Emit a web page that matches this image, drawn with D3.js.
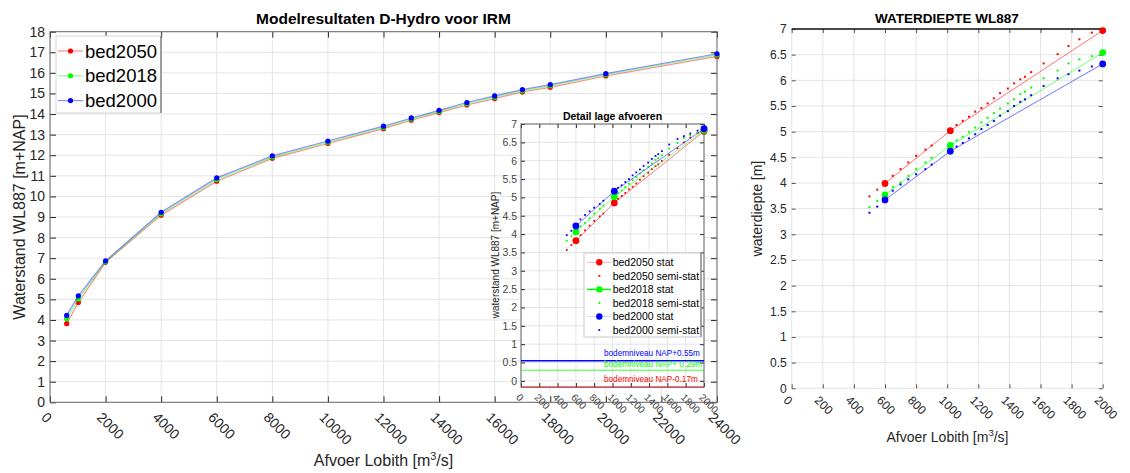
<!DOCTYPE html>
<html>
<head>
<meta charset="utf-8">
<script src="https://cdn.jsdelivr.net/npm/d3@7"></script>
<style>
  body { margin: 0; background: #fff; }
  text { font-family: "Liberation Sans", Arial, Helvetica, sans-serif; }
</style>
</head>
<body>
<svg id="chart" width="1130" height="473"></svg>
<script>
// ---------------- data ----------------
// Main panel: stationary water levels at WL887 [m+NAP] per discharge
const mainQ      = [600, 1020, 2000, 4000, 6000, 8000, 10000, 12000, 13000, 14000, 15000, 16000, 17000, 18000, 20000, 24000];
const wl2050     = [3.82, 4.85, 6.80, 9.09, 10.74, 11.85, 12.57, 13.29, 13.70, 14.07, 14.44, 14.75, 15.07, 15.30, 15.85, 16.80];
const wl2018     = [4.06, 5.02, 6.83, 9.16, 10.82, 11.91, 12.63, 13.35, 13.76, 14.13, 14.50, 14.82, 15.13, 15.37, 15.91, 16.87];
const wl2000     = [4.22, 5.17, 6.87, 9.23, 10.90, 11.97, 12.69, 13.41, 13.81, 14.18, 14.56, 14.88, 15.19, 15.43, 15.96, 16.93];
const mainXTicks = [0, 2000, 4000, 6000, 8000, 10000, 12000, 14000, 16000, 18000, 20000, 22000, 24000];
const mainYTicks = [0, 1, 2, 3, 4, 5, 6, 7, 8, 9, 10, 11, 12, 13, 14, 15, 16, 17, 18];

// Low-discharge detail: stationary points and semi-stationary points
const statQ      = [600, 1020, 2000];
const statWl2050 = [3.82, 4.85, 6.80];
const statWl2018 = [4.06, 5.02, 6.83];
const statWl2000 = [4.22, 5.17, 6.87];
const semiQ      = [500, 550, 650, 700, 750, 800, 860, 900, 1060, 1100, 1140, 1180, 1220, 1260, 1300, 1340, 1390, 1430, 1470, 1500, 1540, 1620, 1710, 1780, 1850, 1930];
const semiWl2050 = [3.57, 3.70, 3.97, 4.10, 4.23, 4.36, 4.48, 4.56, 4.96, 5.04, 5.12, 5.22, 5.29, 5.38, 5.48, 5.58, 5.67, 5.77, 5.85, 5.90, 5.99, 6.16, 6.34, 6.50, 6.63, 6.76];
const semiWl2018 = [3.82, 3.94, 4.21, 4.30, 4.43, 4.56, 4.69, 4.78, 5.12, 5.19, 5.28, 5.37, 5.47, 5.56, 5.65, 5.74, 5.84, 5.92, 6.02, 6.07, 6.15, 6.33, 6.48, 6.62, 6.70, 6.76];
const semiWl2000 = [3.97, 4.09, 4.40, 4.52, 4.62, 4.72, 4.82, 4.91, 5.26, 5.33, 5.42, 5.50, 5.60, 5.68, 5.76, 5.86, 5.95, 6.05, 6.13, 6.18, 6.26, 6.44, 6.59, 6.67, 6.74, 6.82];
const bedLevels  = [0.55, 0.29, -0.17];
const bedLabels  = ["bodemniveau NAP+0.55m", "bodemniveau NAP+ 0.29m", "bodemniveau NAP-0.17m"];
const detailYTicks = [0, 0.5, 1, 1.5, 2, 2.5, 3, 3.5, 4, 4.5, 5, 5.5, 6, 6.5, 7];
const detailXTicks = [0, 200, 400, 600, 800, 1000, 1200, 1400, 1600, 1800, 2000];

// Water depth at WL887 [m]
const depthStat2050 = [3.99, 5.02, 6.97];
const depthStat2018 = [3.77, 4.73, 6.54];
const depthStat2000 = [3.67, 4.62, 6.32];
const depthSemi2050 = [3.74, 3.87, 4.14, 4.27, 4.40, 4.53, 4.65, 4.73, 5.13, 5.21, 5.29, 5.39, 5.46, 5.55, 5.65, 5.75, 5.84, 5.94, 6.02, 6.07, 6.16, 6.33, 6.51, 6.67, 6.80, 6.93];
const depthSemi2018 = [3.53, 3.65, 3.92, 4.01, 4.14, 4.27, 4.40, 4.49, 4.83, 4.90, 4.99, 5.08, 5.18, 5.27, 5.36, 5.45, 5.55, 5.63, 5.73, 5.78, 5.86, 6.04, 6.19, 6.33, 6.41, 6.47];
const depthSemi2000 = [3.42, 3.54, 3.85, 3.97, 4.07, 4.17, 4.27, 4.36, 4.71, 4.78, 4.87, 4.95, 5.05, 5.13, 5.21, 5.31, 5.40, 5.50, 5.58, 5.63, 5.71, 5.89, 6.04, 6.12, 6.19, 6.27];

const seriesNames  = ["bed2050", "bed2018", "bed2000"];
const seriesColors = ["#ff0000", "#00ff00", "#0000ff"];

// ---------------- helpers ----------------
const svg = d3.select("#chart");
svg.append("rect").attr("width", 1130).attr("height", 473).attr("fill", "#fff");

const GRID = "#e4e4e4";
const AXIS = "#262626";

function pairs(xs, ys) { return xs.map((q, i) => [q, ys[i]]); }

function grid(g, x, y, xt, yt) {
  const [x0, x1] = x.range(), [y0, y1] = y.range();
  g.append("g").selectAll("line").data(xt).join("line")
    .attr("x1", d => x(d)).attr("x2", d => x(d)).attr("y1", y0).attr("y2", y1)
    .attr("stroke", GRID).attr("stroke-width", 1);
  g.append("g").selectAll("line").data(yt).join("line")
    .attr("x1", x0).attr("x2", x1).attr("y1", d => y(d)).attr("y2", d => y(d))
    .attr("stroke", GRID).attr("stroke-width", 1);
}

// inward ticks on all four sides, labels left and bottom (bottom labels rotated 45deg)
function axes(g, x, y, xt, yt, o) {
  const [x0, x1] = x.range(), [y0, y1] = y.range();
  const tl = o.tick || 5;
  const left = g.append("g").attr("transform", `translate(${x0},0)`)
    .call(d3.axisLeft(y).tickValues(yt).tickSize(-tl).tickPadding(o.yPad).tickFormat(d => String(d)));
  const bottom = g.append("g").attr("transform", `translate(0,${y0})`)
    .call(d3.axisBottom(x).tickValues(xt).tickSize(-tl).tickFormat(d => String(d)));
  const top = g.append("g").attr("transform", `translate(0,${y1})`)
    .call(d3.axisTop(x).tickValues(xt).tickSize(-tl).tickFormat(""));
  const right = g.append("g").attr("transform", `translate(${x1},0)`)
    .call(d3.axisRight(y).tickValues(yt).tickSize(-tl).tickFormat(""));
  [left, bottom, top, right].forEach(a => {
    a.select(".domain").remove();
    a.selectAll("line").attr("stroke", o.tickColor || AXIS);
  });
  left.selectAll("text").attr("fill", o.labelColor || AXIS)
    .style("font-size", o.yFont + "px");
  bottom.selectAll("text")
    .attr("fill", o.labelColor || AXIS)
    .style("font-size", o.xFont + "px")
    .attr("text-anchor", "start")
    .attr("x", 0).attr("y", 0).attr("dy", 0)
    .attr("transform", `translate(${o.xdx},${o.xdy}) rotate(45)`);
  if (!o.noBox) {
    g.append("rect").attr("x", x0).attr("y", y1).attr("width", x1 - x0).attr("height", y0 - y1)
      .attr("fill", "none").attr("stroke", o.boxColor || "#555").attr("stroke-width", 1);
  }
}

function unitText(sel) {
  sel.append("tspan").text("Afvoer Lobith [m");
  sel.append("tspan").attr("dy", -6).style("font-size", "0.68em").text("3");
  sel.append("tspan").attr("dy", 6).text("/s]");
}

// ---------------- main panel ----------------
const mx = d3.scaleLinear().domain([0, 24000]).range([50, 717]);
const my = d3.scaleLinear().domain([0, 18]).range([402.3, 31.7]);
const mainG = svg.append("g");
grid(mainG, mx, my, mainXTicks, mainYTicks);
axes(mainG, mx, my, mainXTicks, mainYTicks, { yPad: 5, yFont: 14, xFont: 14, xdx: -10, xdy: 16, tick: 6, boxColor: "#6a6a6a" });

const mainLevels = [wl2050, wl2018, wl2000];
const lineGen = d3.line().x(d => mx(d[0])).y(d => my(d[1]));
mainLevels.forEach((wl, i) => {
  const pts = pairs(mainQ, wl);
  mainG.append("path").datum(pts).attr("d", lineGen)
    .attr("fill", "none").attr("stroke", seriesColors[i]).attr("stroke-opacity", 0.45).attr("stroke-width", 1.2);
  mainG.append("g").selectAll("circle").data(pts).join("circle")
    .attr("cx", d => mx(d[0])).attr("cy", d => my(d[1])).attr("r", 2.6).attr("fill", seriesColors[i]);
});

// title & axis labels
svg.append("text").attr("x", 383.5).attr("y", 24).attr("text-anchor", "middle")
  .style("font-size", "15.5px").style("font-weight", "bold").attr("fill", "#000")
  .text("Modelresultaten D-Hydro voor IRM");
svg.append("text").attr("transform", "translate(25,217) rotate(-90)").attr("text-anchor", "middle")
  .style("font-size", "16px").attr("fill", AXIS).text("Waterstand WL887 [m+NAP]");
svg.append("text").attr("x", 383.5).attr("y", 466).attr("text-anchor", "middle")
  .style("font-size", "16px").attr("fill", AXIS).call(unitText);

// main legend
const mLeg = svg.append("g");
mLeg.append("rect").attr("x", 56).attr("y", 36).attr("width", 105).attr("height", 77)
  .attr("fill", "#fff").attr("stroke", "#d5d5d5");
mLeg.append("line").attr("x1", 161).attr("x2", 161).attr("y1", 36).attr("y2", 113).attr("stroke", "#555");
seriesNames.forEach((nm, i) => {
  const cy = 51 + i * 24.8;
  mLeg.append("line").attr("x1", 58).attr("x2", 83).attr("y1", cy).attr("y2", cy)
    .attr("stroke", seriesColors[i]).attr("stroke-opacity", 0.45).attr("stroke-width", 1.2);
  mLeg.append("circle").attr("cx", 70.5).attr("cy", cy).attr("r", 2.6).attr("fill", seriesColors[i]);
  mLeg.append("text").attr("x", 85).attr("y", cy + 6.5).style("font-size", "18.5px").attr("fill", "#000").text(nm);
});

// ---------------- detail inset ----------------
const ix = d3.scaleLinear().domain([0, 2000]).range([521, 704]);
const iy = d3.scaleLinear().domain([-0.17, 7]).range([387.1, 124]);
const insG = svg.append("g");
insG.append("rect").attr("x", 521).attr("y", 124).attr("width", 183).attr("height", 263.1).attr("fill", "#fff");
grid(insG, ix, iy, detailXTicks, detailYTicks);
axes(insG, ix, iy, detailXTicks, detailYTicks, { yPad: 4, yFont: 10.5, xFont: 10, xdx: -6, xdy: 11, tick: 4, labelColor: "#444", boxColor: "#666" });

// bed levels
const bedColors = ["#0000ff", "#00ff00", "#ff0000"];
const bedWidths = [1.5, 0.8, 0.8];
const bedTextY  = [356, 366.5, 381.5];
bedLevels.forEach((b, i) => {
  insG.append("line").attr("x1", ix(0)).attr("x2", ix(2000)).attr("y1", iy(b)).attr("y2", iy(b))
    .attr("stroke", bedColors[i]).attr("stroke-width", bedWidths[i]);
  insG.append("text").attr("x", 604).attr("y", bedTextY[i]).style("font-size", "8.2px")
    .attr("fill", bedColors[i]).text(bedLabels[i]);
});

const statLevels = [statWl2050, statWl2018, statWl2000];
const semiLevels = [semiWl2050, semiWl2018, semiWl2000];
const insLine = d3.line().x(d => ix(d[0])).y(d => iy(d[1]));
statLevels.forEach((wl, i) => {
  const pts = pairs(statQ, wl);
  insG.append("path").datum(pts).attr("d", insLine).attr("fill", "none")
    .attr("stroke", seriesColors[i]).attr("stroke-opacity", 0.5).attr("stroke-width", 1);
  insG.append("g").selectAll("rect").data(pairs(semiQ, semiLevels[i])).join("rect")
    .attr("x", d => ix(d[0]) - 0.9).attr("y", d => iy(d[1]) - 0.9).attr("width", 1.8).attr("height", 1.8)
    .attr("fill", seriesColors[i]);
});
statLevels.forEach((wl, i) => {
  insG.append("g").selectAll("circle").data(pairs(statQ, wl)).join("circle")
    .attr("cx", d => ix(d[0])).attr("cy", d => iy(d[1])).attr("r", 3.4).attr("fill", seriesColors[i]);
});

svg.append("text").attr("x", 612.5).attr("y", 120).attr("text-anchor", "middle")
  .style("font-size", "10.5px").style("font-weight", "bold").attr("fill", "#000").text("Detail lage afvoeren");
svg.append("text").attr("transform", "translate(499,255) rotate(-90)").attr("text-anchor", "middle")
  .style("font-size", "10px").attr("fill", AXIS).text("waterstand WL887 [m+NAP]");

// inset legend
const iLeg = svg.append("g");
iLeg.append("rect").attr("x", 584).attr("y", 253).attr("width", 117).attr("height", 84)
  .attr("fill", "#fff").attr("stroke", "#c8c8c8");
iLeg.append("line").attr("x1", 701).attr("x2", 701).attr("y1", 253).attr("y2", 337).attr("stroke", "#666");
const legItems = [];
seriesNames.forEach((nm, i) => {
  legItems.push({ label: nm + " stat", color: seriesColors[i], stat: true, i });
  legItems.push({ label: nm + " semi-stat", color: seriesColors[i], stat: false, i });
});
const legLineOpacity = [0.3, 1, 0.15];
legItems.forEach((it, k) => {
  const cy = 262.3 + k * 13.55;
  if (it.stat) {
    iLeg.append("line").attr("x1", 587).attr("x2", 611).attr("y1", cy).attr("y2", cy)
      .attr("stroke", it.color).attr("stroke-opacity", legLineOpacity[it.i]).attr("stroke-width", it.i === 1 ? 1.5 : 1);
    iLeg.append("circle").attr("cx", 599.3).attr("cy", cy).attr("r", 3.2).attr("fill", it.color);
  } else {
    iLeg.append("rect").attr("x", 598.4).attr("y", cy - 0.9).attr("width", 1.8).attr("height", 1.8).attr("fill", it.color);
  }
  iLeg.append("text").attr("x", 612.7).attr("y", cy + 3.7).style("font-size", "10.5px").attr("fill", "#000").text(it.label);
});

// ---------------- water depth panel ----------------
const rx = d3.scaleLinear().domain([0, 2000]).range([791.7, 1102.7]);
const ry = d3.scaleLinear().domain([0, 7]).range([388.3, 29]);
const rG = svg.append("g");
grid(rG, rx, ry, detailXTicks, detailYTicks);
axes(rG, rx, ry, detailXTicks, detailYTicks, { yPad: 5, yFont: 12, xFont: 12, xdx: -9.5, xdy: 12.7, tick: 4, tickColor: "#555", noBox: true });
rG.append("line").attr("x1", rx(0)).attr("x2", rx(2000)).attr("y1", ry(7)).attr("y2", ry(7))
  .attr("stroke", "#111").attr("stroke-width", 1.5);

const depthStat = [depthStat2050, depthStat2018, depthStat2000];
const depthSemi = [depthSemi2050, depthSemi2018, depthSemi2000];
const rLine = d3.line().x(d => rx(d[0])).y(d => ry(d[1]));
depthStat.forEach((dv, i) => {
  const pts = pairs(statQ, dv);
  rG.append("path").datum(pts).attr("d", rLine).attr("fill", "none")
    .attr("stroke", seriesColors[i]).attr("stroke-opacity", 0.55).attr("stroke-width", 1);
  rG.append("g").selectAll("rect").data(pairs(semiQ, depthSemi[i])).join("rect")
    .attr("x", d => rx(d[0]) - 1).attr("y", d => ry(d[1]) - 1).attr("width", 2).attr("height", 2)
    .attr("fill", seriesColors[i]);
});
depthStat.forEach((dv, i) => {
  rG.append("g").selectAll("circle").data(pairs(statQ, dv)).join("circle")
    .attr("cx", d => rx(d[0])).attr("cy", d => ry(d[1])).attr("r", 3.4).attr("fill", seriesColors[i]);
});

svg.append("text").attr("x", 947).attr("y", 23).attr("text-anchor", "middle")
  .style("font-size", "13.5px").style("font-weight", "bold").attr("fill", "#000").text("WATERDIEPTE WL887");
svg.append("text").attr("transform", "translate(762,208.6) rotate(-90)").attr("text-anchor", "middle")
  .style("font-size", "14px").attr("fill", AXIS).text("waterdiepte [m]");
svg.append("text").attr("x", 947.5).attr("y", 442).attr("text-anchor", "middle")
  .style("font-size", "14px").attr("fill", AXIS).call(unitText);
</script>
</body>
</html>
